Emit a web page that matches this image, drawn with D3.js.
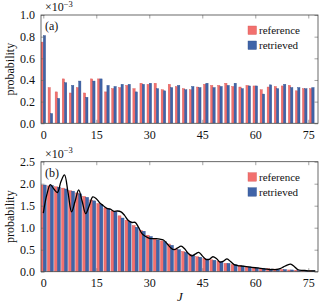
<!DOCTYPE html>
<html>
<head>
<meta charset="utf-8">
<script src="https://cdn.jsdelivr.net/npm/d3@7"></script>
<style>
    body { margin: 0; background: white; }
    text { font-family: "Liberation Serif", "DejaVu Serif", serif; fill: #111; }
</style>
</head>
<body>
<div id="viz"></div>
<script>
// J values of the bar pairs
const jValues = [0, 2, 4, 6, 8, 10, 12, 14, 16, 18, 20, 22, 24, 26, 28, 30, 32, 34, 36, 38,
    40, 42, 44, 46, 48, 50, 52, 54, 56, 58, 60, 62, 64, 66, 68, 70, 72, 74, 76];

// panel (a), in units of 1e-3
const referenceA = [0.75, 0.33, 0.29, 0.41, 0.28, 0.33, 0.28, 0.41, 0.41, 0.29, 0.32, 0.33, 0.35,
    0.32, 0.37, 0.36, 0.37, 0.31, 0.36, 0.34, 0.32, 0.31, 0.335, 0.36, 0.35, 0.35, 0.37, 0.34,
    0.335, 0.35, 0.345, 0.31, 0.335, 0.34, 0.345, 0.35, 0.30, 0.32, 0.32];
const retrievedA = [0.81, 0.09, 0.23, 0.375, 0.35, 0.39, 0.24, 0.39, 0.41, 0.35, 0.34, 0.36, 0.36,
    0.29, 0.36, 0.37, 0.32, 0.30, 0.33, 0.35, 0.31, 0.34, 0.33, 0.37, 0.33, 0.34, 0.35, 0.37,
    0.32, 0.345, 0.345, 0.27, 0.355, 0.32, 0.36, 0.33, 0.33, 0.32, 0.33];

// panel (b), in units of 1e-3
const referenceB = [1.97, 1.95, 1.93, 1.90, 1.84, 1.79, 1.71, 1.63, 1.55, 1.45, 1.38, 1.27, 1.17,
    1.05, 0.94, 0.83, 0.74, 0.70, 0.63, 0.52, 0.46, 0.39, 0.34, 0.30, 0.27, 0.24, 0.19, 0.16,
    0.14, 0.11, 0.09, 0.08, 0.07, 0.06, 0.05, 0.04, 0.035, 0.03, 0.02];
const retrievedB = [1.97, 1.96, 1.92, 1.88, 1.83, 1.77, 1.69, 1.61, 1.53, 1.44, 1.36, 1.22, 1.14,
    1.01, 0.92, 0.80, 0.72, 0.68, 0.60, 0.50, 0.44, 0.38, 0.33, 0.29, 0.26, 0.23, 0.19, 0.16,
    0.13, 0.11, 0.09, 0.08, 0.06, 0.05, 0.05, 0.04, 0.03, 0.03, 0.02];

// black curve in panel (b), one point per J = 0..77
const curveJ = d3.range(0, 78);
const curveB = [1.33, 1.75, 1.98, 1.88, 1.80, 2.05, 2.20, 1.80, 1.36, 1.60, 1.86, 1.60, 1.32, 1.50,
    1.70, 1.66, 1.56, 1.50, 1.44, 1.42, 1.37, 1.38, 1.36, 1.28, 1.17, 1.12, 1.12, 1.00, 0.86,
    0.80, 0.76, 0.75, 0.75, 0.74, 0.72, 0.64, 0.55, 0.50, 0.54, 0.58, 0.52, 0.42, 0.36, 0.40,
    0.44, 0.36, 0.28, 0.28, 0.34, 0.30, 0.22, 0.24, 0.29, 0.23, 0.16, 0.14, 0.13, 0.12, 0.11,
    0.10, 0.09, 0.08, 0.07, 0.06, 0.05, 0.05, 0.05, 0.07, 0.11, 0.15, 0.17, 0.12, 0.05, 0.03,
    0.03, 0.02, 0.02, 0.02];

const xTicks = [0, 15, 30, 45, 60, 75];
const yTicksA = [0, 0.2, 0.4, 0.6, 0.8, 1.0];
const yTicksB = [0, 0.5, 1.0, 1.5, 2.0, 2.5];
const seriesNames = ["reference", "retrieved"];

const width = 320;
const height = 305;
const red = "#f2706e";
const blue = "#4064a8";

const svg = d3.select("#viz").append("svg")
    .attr("width", width)
    .attr("height", height);

const x = d3.scaleLinear().domain([-0.65, 77.75]).range([41, 318]);

function drawPanel(top, bottom, yMax, yTicks, refVals, retVals, barW, label) {
    const y = d3.scaleLinear().domain([0, yMax]).range([bottom, top]);
    const g = svg.append("g");

    const clipId = "clip" + label;
    g.append("clipPath").attr("id", clipId)
        .append("rect")
        .attr("x", x.range()[0]).attr("y", top)
        .attr("width", x.range()[1] - x.range()[0]).attr("height", bottom - top);

    const bars = g.append("g").attr("clip-path", "url(#" + clipId + ")");

    bars.selectAll(".ref")
        .data(jValues)
        .enter()
        .append("rect")
        .attr("x", (d) => x(d - barW))
        .attr("y", (d, i) => y(refVals[i]))
        .attr("width", x(barW) - x(0))
        .attr("height", (d, i) => y(0) - y(refVals[i]))
        .attr("fill", red)
        .attr("stroke", "#d85a58")
        .attr("stroke-width", 0.4);

    bars.selectAll(".ret")
        .data(jValues)
        .enter()
        .append("rect")
        .attr("x", (d) => x(d))
        .attr("y", (d, i) => y(retVals[i]))
        .attr("width", x(barW) - x(0))
        .attr("height", (d, i) => y(0) - y(retVals[i]))
        .attr("fill", blue)
        .attr("stroke", "#2f4f8c")
        .attr("stroke-width", 0.4);

    // axes with inward ticks on all sides
    g.append("g").attr("transform", "translate(0," + bottom + ")")
        .call(d3.axisBottom(x).tickValues(xTicks).tickSize(-3.5).tickPadding(7).tickFormat(d3.format("d")));
    g.append("g").attr("transform", "translate(0," + top + ")")
        .call(d3.axisTop(x).tickValues(xTicks).tickSize(-3.5).tickFormat(""));
    g.append("g").attr("transform", "translate(" + x.range()[0] + ",0)")
        .call(d3.axisLeft(y).tickValues(yTicks).tickSize(-3.5).tickPadding(6).tickFormat(d3.format(".1f")));
    g.append("g").attr("transform", "translate(" + x.range()[1] + ",0)")
        .call(d3.axisRight(y).tickValues(yTicks).tickSize(-3.5).tickFormat(""));

    g.selectAll(".domain").remove();
    g.selectAll(".tick line").attr("stroke", "#666").attr("stroke-width", 0.6);
    g.selectAll(".tick text").style("font-size", "12px").style("font-family", "Liberation Serif");

    g.append("rect")
        .attr("x", x.range()[0]).attr("y", top)
        .attr("width", x.range()[1] - x.range()[0]).attr("height", bottom - top)
        .attr("fill", "none").attr("stroke", "#444").attr("stroke-width", 0.8);

    // scale factor
    const sf = g.append("text").attr("x", 45).attr("y", top - 4).style("font-size", "12px");
    sf.append("tspan").text("×10");
    sf.append("tspan").attr("dy", -4.5).style("font-size", "8.5px").text("−3");

    g.append("text").attr("x", 45).attr("y", top + 15).style("font-size", "12px").text("(" + label + ")");

    g.append("text")
        .attr("transform", "translate(14," + (top + bottom) / 2 + ") rotate(-90)")
        .attr("text-anchor", "middle")
        .style("font-size", "12px")
        .text("probability");

    // legend
    [red, blue].forEach((c, i) => {
        g.append("rect").attr("x", 248).attr("y", top + 11 + i * 15).attr("width", 8.5).attr("height", 8.5)
            .attr("fill", c).attr("stroke", i === 0 ? "#d85a58" : "#2f4f8c").attr("stroke-width", 0.4);
        g.append("text").attr("x", 259).attr("y", top + 19 + i * 15).style("font-size", "11px").text(seriesNames[i]);
    });

    return y;
}

drawPanel(15, 123.3, 1.0, yTicksA, referenceA, retrievedA, 0.65, "a");
const yB = drawPanel(161.7, 271.7, 2.5, yTicksB, referenceB, retrievedB, 0.85, "b");

const line = d3.line()
    .x((d) => x(d))
    .y((d, i) => yB(curveB[i]))
    .curve(d3.curveCatmullRom);

svg.append("path")
    .datum(curveJ)
    .attr("d", line)
    .attr("fill", "none")
    .attr("stroke", "black")
    .attr("stroke-width", 1.3);

svg.append("text")
    .attr("x", 180).attr("y", 301)
    .attr("text-anchor", "middle")
    .style("font-size", "13px")
    .style("font-style", "italic")
    .text("J");
</script>
</body>
</html>
